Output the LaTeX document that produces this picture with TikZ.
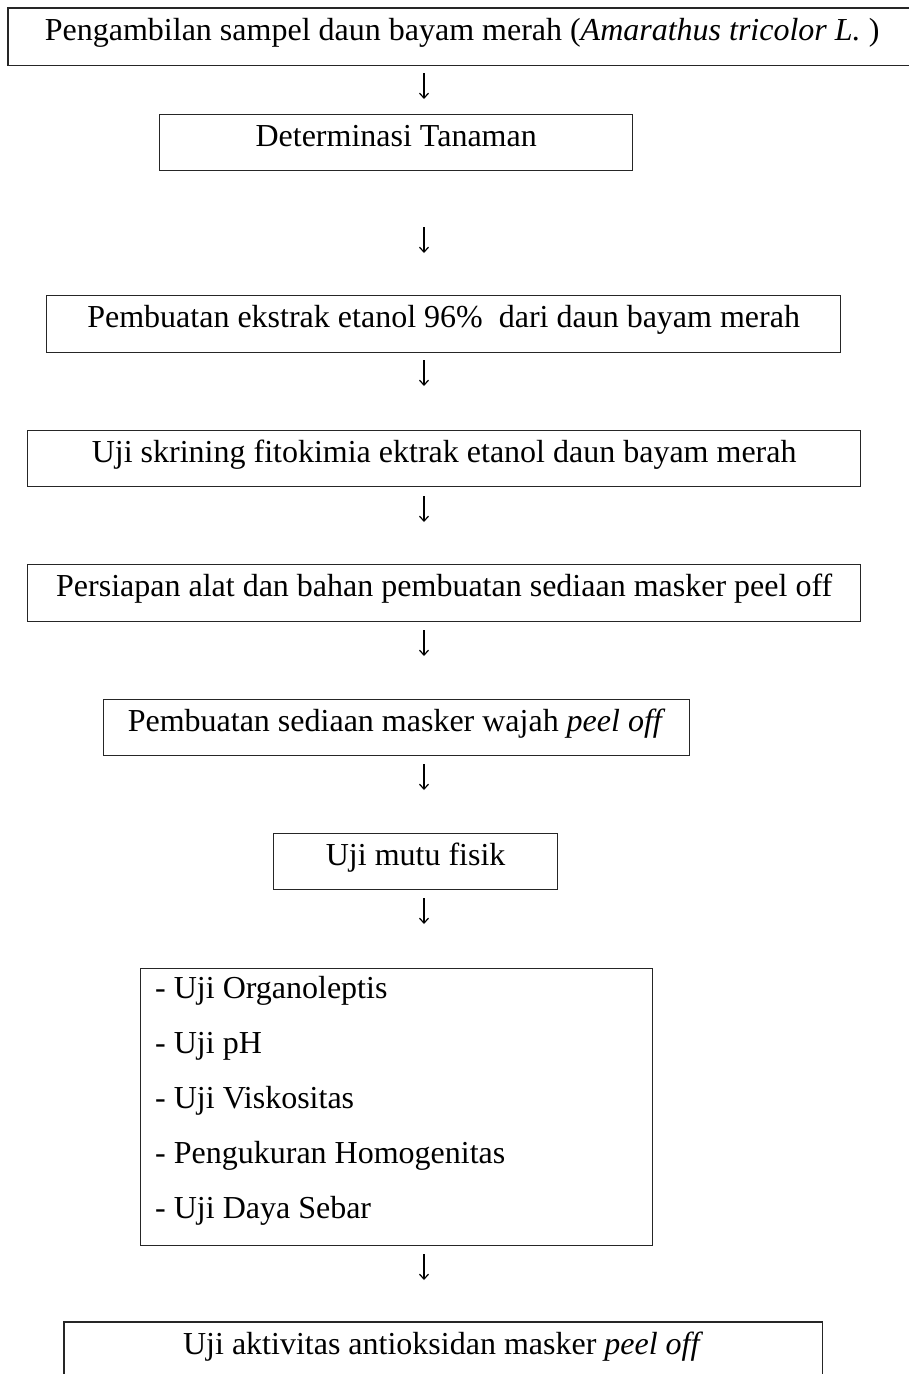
\documentclass[tikz,border=0pt]{standalone}
\usepackage{fontspec}
\setmainfont{Liberation Serif}
\usetikzlibrary{arrows.meta}
\begin{document}
\begin{tikzpicture}[x=1pt,y=-1pt,
  frame/.style={draw=black!85, line width=1.3pt, rectangle, anchor=north west, inner sep=0pt},
  box/.style={frame, text height=32pt, text depth=24pt, font=\fontsize{32}{40}\selectfont},
  tall/.style={text depth=25pt},
  edge/.style={draw=black!85, line width=1.3pt},
  arr/.style={line width=1.2pt, -{Straight Barb[length=5pt, width=9pt, line width=1.2pt]}},
  item/.style={anchor=base west, inner sep=0pt, font=\fontsize{32}{40}\selectfont}]
\useasboundingbox (0,0) rectangle (908,1374);
\fill[white] (0,0) rectangle (908,1374);

\node[box, draw=none, minimum width=925pt] (b1) at (8,8)
  {\hspace*{-18pt}Pengambilan sampel daun bayam merah (\textit{Amarathus tricolor L.} )};
\draw[edge] (b1.north east) -- (b1.north west) -- (b1.south west) -- (b1.south east);
\node[box, minimum width=473pt] (b2) at (159,114) {Determinasi Tanaman};
\node[box, tall, minimum width=794pt] (b3) at (46,295)
  {Pembuatan ekstrak etanol 96\%\ \ dari daun bayam merah};
\node[box, minimum width=833pt] (b4) at (27,430)
  {Uji skrining fitokimia ektrak etanol daun bayam merah};
\node[box, tall, minimum width=833pt] (b5) at (27,564)
  {Persiapan alat dan bahan pembuatan sediaan masker peel off};
\node[box, minimum width=586pt] (b6) at (103,699)
  {Pembuatan sediaan masker wajah \textit{peel off}};
\node[box, minimum width=284pt] (b7) at (273,833) {Uji mutu fisik};
\node[frame, minimum width=512pt, minimum height=277pt] (b8) at (140,968) {};
\node[item] (l1) at (155,998) {- Uji Organoleptis};
\node[item] (l2) at (155,1053) {- Uji pH};
\node[item] (l3) at (155,1108) {- Uji Viskositas};
\node[item] (l4) at (155,1163) {- Pengukuran Homogenitas};
\node[item] (l5) at (155,1218) {- Uji Daya Sebar};
\node[box, tall, draw=none, minimum width=757pt, text depth=30pt] (b9) at (64,1322)
  {Uji aktivitas antioksidan masker \textit{peel off}};
\draw[edge] (b9.south west) -- (b9.north west) -- (b9.north east) -- (b9.south east);

\foreach \i/\t in {1/73, 2/227, 3/360, 4/496, 5/630, 6/764, 7/898, 8/1254}{
  \coordinate (s\i) at (424,\t);
  \coordinate (e\i) at (424,\t+26);
  \draw[arr] (s\i) -- (e\i);
}
\end{tikzpicture}
\end{document}
